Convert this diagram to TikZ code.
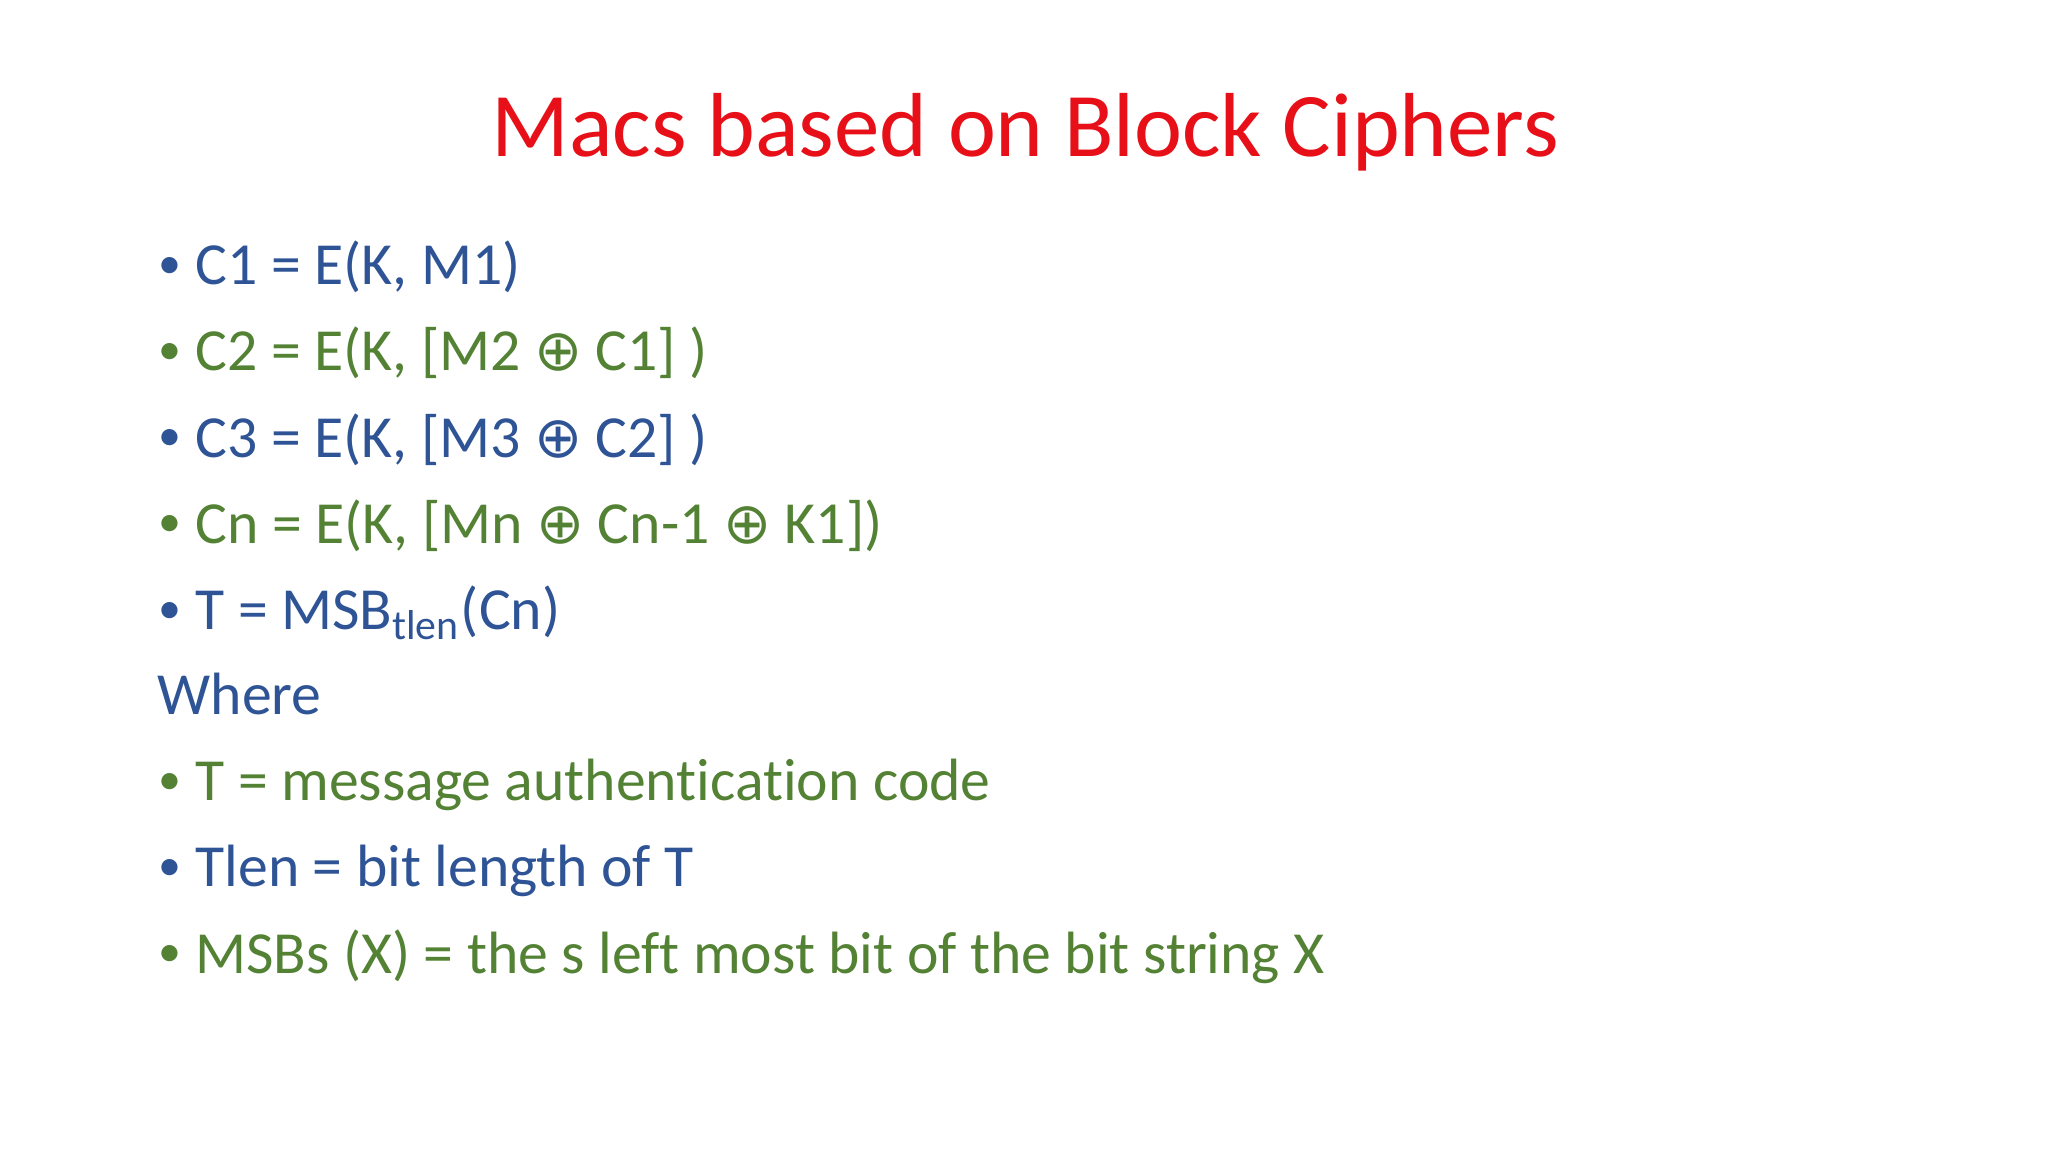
\documentclass[tikz,border=0pt]{standalone}
\usepackage{fontspec}
\setmainfont[Ligatures=NoCommon]{Carlito}
\newfontfamily\symfont{DejaVu Sans}
\definecolor{tred}{RGB}{232,16,24}
\definecolor{tblue}{RGB}{47,84,150}
\definecolor{tgreen}{RGB}{84,130,53}
\newcommand{\xo}{{\symfont\fontsize{12.5}{14}\selectfont ⊕}}
\tikzset{
  title/.style={anchor=base, text=tred, font=\fontsize{19.8}{24}\selectfont, inner sep=0},
  line/.style={anchor=base west, font=\fontsize{13.0}{17}\selectfont, inner sep=0},
  bul/.style={anchor=base west, font=\fontsize{10}{12}\selectfont, inner sep=0},
}
\begin{document}
\begin{tikzpicture}[x=0.01cm,y=-0.01cm]
\useasboundingbox (0,0) rectangle (1568,882);
\fill[white] (0,0) rectangle (1568,882);
\node[title] (t) at (785,120) {Macs based on Block Ciphers};
\foreach \y/\c/\txt [count=\i] in {
 218/tblue/{C1 = E(K, M1)},
 284/tgreen/{C2 = E(K, [M2 \xo{} C1] )},
 350/tblue/{C3 = E(K, [M3 \xo{} C2] )},
 416/tgreen/{Cn = E(K, [Mn \xo{} Cn-1 \xo{} K1])},
 482/tblue/{T = MSB\textsubscript{tlen}(Cn)},
 613/tgreen/{T = message authentication code},
 679/tblue/{Tlen = bit length of T},
 745/tgreen/{MSBs (X) = the s left most bit of the bit string X}}{
  \node[bul,text=\c] (b\i) at (121,\y-5) {•};
  \node[line,text=\c] (l\i) at (149,\y) {\txt};
}
\node[line,text=tblue] (w) at (120,547) {Where};
\end{tikzpicture}
\end{document}
